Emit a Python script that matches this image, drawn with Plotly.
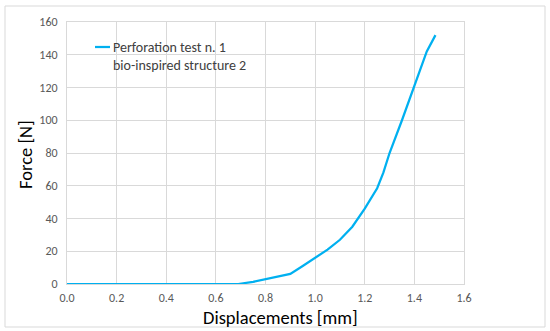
import plotly.graph_objects as go

displacement = [0.0, 0.69, 0.75, 0.8, 0.85, 0.9, 0.95, 1.0, 1.05, 1.1, 1.15, 1.2, 1.25, 1.275, 1.3, 1.35, 1.4, 1.45, 1.485]
force = [0, 0, 1.3, 2.9, 4.5, 6.2, 11, 16, 21, 27, 35, 46, 58.5, 68, 80, 100, 121, 142, 152]
x_ticks = [0.0, 0.2, 0.4, 0.6, 0.8, 1.0, 1.2, 1.4, 1.6]
y_ticks = [0, 20, 40, 60, 80, 100, 120, 140, 160]
legend_lines = ["Perforation test n. 1", "bio-inspired structure 2"]
x_title = "Displacements [mm]"
y_title = "Force [N]"

FONT = "Carlito, Lato, Calibri, sans-serif"
COLOR = "#00B0F0"
GRID = "#d9d9d9"

# plot-area geometry in pixels (for paper-coordinate conversions)
L, T, PW, PH = 67, 22, 397, 262

def px(x):
    return (x - L) / PW

def py(y):
    return (T + PH - y) / PH

fig = go.Figure()
fig.add_trace(go.Scatter(
    x=displacement, y=force, mode="lines", name=" ".join(legend_lines),
    line=dict(color=COLOR, width=2.25, shape="linear"),
    showlegend=False,
))

annotations = [
    dict(text=legend_lines[0], xref="paper", yref="paper", x=px(111), y=py(47),
         xanchor="left", yanchor="middle", showarrow=False,
         font=dict(size=14, color="#404040", family=FONT)),
    dict(text=legend_lines[1], xref="paper", yref="paper", x=px(111), y=py(65),
         xanchor="left", yanchor="middle", showarrow=False,
         font=dict(size=14, color="#404040", family=FONT)),
    dict(text=x_title, xref="paper", yref="paper", x=px(280.5), y=py(317),
         xanchor="center", yanchor="middle", showarrow=False,
         font=dict(size=18.5, color="#000000", family=FONT)),
    dict(text=y_title, xref="paper", yref="paper", x=px(25), y=py(155),
         xanchor="center", yanchor="middle", showarrow=False, textangle=-90,
         font=dict(size=18.5, color="#000000", family=FONT)),
]

shapes = [
    dict(type="rect", xref="paper", yref="paper",
         x0=px(5), x1=px(545), y0=py(327), y1=py(6),
         line=dict(color=GRID, width=1), fillcolor="rgba(0,0,0,0)", layer="below"),
    dict(type="line", xref="paper", yref="paper",
         x0=px(95), x1=px(110), y0=py(47), y1=py(47),
         line=dict(color=COLOR, width=2.25)),
]

fig.update_layout(
    width=550, height=331,
    margin=dict(l=L, r=550 - L - PW, t=T, b=331 - T - PH, autoexpand=False),
    paper_bgcolor="white", plot_bgcolor="white",
    font=dict(family=FONT, color="#595959", size=12),
    showlegend=False,
    xaxis=dict(range=[0, 1.6], tickvals=x_ticks, ticktext=[f"{v:.1f}" for v in x_ticks],
               showgrid=True, gridcolor=GRID, gridwidth=1, zeroline=False,
               showline=True, linecolor=GRID, mirror=True, ticks="", automargin=False,
               ticklabelstandoff=3),
    yaxis=dict(range=[0, 160], tickvals=y_ticks,
               showgrid=True, gridcolor=GRID, gridwidth=1, zeroline=False,
               showline=True, linecolor=GRID, mirror=True, ticks="", automargin=False,
               ticklabelstandoff=6),
    annotations=annotations,
    shapes=shapes,
)

fig.write_html("out.html", config={"displayModeBar": False},
               post_script="document.body.style.margin='0px';")
